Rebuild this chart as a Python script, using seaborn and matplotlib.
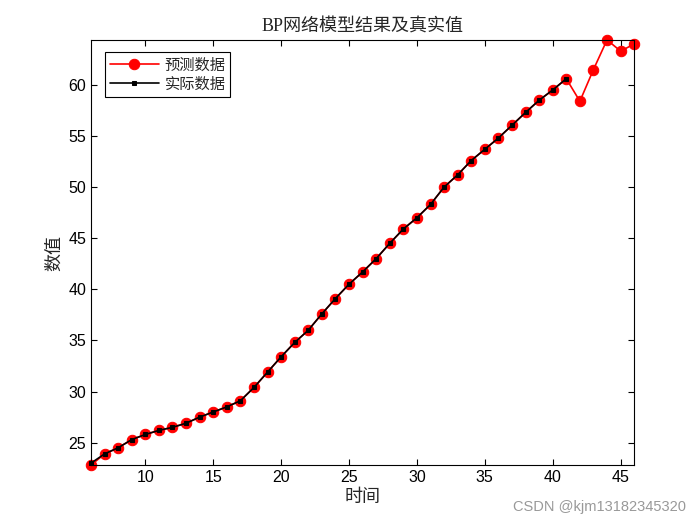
import matplotlib
matplotlib.use("Agg")
import matplotlib.pyplot as plt
import seaborn as sns
import numpy as np
import pandas as pd

# data
t_pred = list(range(6, 47))
pred = [22.8, 23.9, 24.5, 25.3, 25.8, 26.2, 26.5, 26.9, 27.5, 28.0, 28.5, 29.1,
        30.4, 31.9, 33.4, 34.8, 36.0, 37.6, 39.1, 40.5, 41.7, 43.0, 44.5, 45.9,
        47.0, 48.3, 50.0, 51.2, 52.6, 53.7, 54.8, 56.05, 57.3, 58.5, 59.5, 60.6,
        58.4, 61.5, 64.4, 63.3, 64.0]
t_act = list(range(6, 42))
act = [23.0, 23.9, 24.5, 25.3, 25.8, 26.2, 26.5, 26.9, 27.5, 28.0, 28.5, 29.1,
       30.4, 31.9, 33.4, 34.8, 36.0, 37.6, 39.1, 40.5, 41.7, 43.0, 44.5, 45.9,
       47.0, 48.3, 50.0, 51.2, 52.6, 53.7, 54.8, 56.05, 57.3, 58.5, 59.5, 60.6]
xticks = [10, 15, 20, 25, 30, 35, 40, 45]
yticks = [25, 30, 35, 40, 45, 50, 55, 60]

sns.set_style("white")
plt.rcParams['font.family'] = ['Liberation Sans', 'Noto Sans CJK SC', 'DejaVu Sans']

fig = plt.figure(figsize=(7, 5.25), dpi=100)
ax = fig.add_axes([0.13, 0.114, 0.776, 0.81])

sns.lineplot(x=t_pred, y=pred, ax=ax, color='red', marker='o', markersize=7.5,
             markeredgecolor='red', linewidth=1.2, label='预测数据', clip_on=False)
sns.lineplot(x=t_act, y=act, ax=ax, color='black', marker='s', markersize=3.5,
             markeredgecolor='black', linewidth=1.2, label='实际数据', clip_on=False)

ax.set_xlim(6, 46)
ax.set_ylim(min(pred), max(pred))
ax.set_xticks(xticks)
ax.set_yticks(yticks)
ax.tick_params(direction='in', length=4, width=0.8, labelsize=11.5, colors='black',
               top=True, right=True, bottom=True, left=True, labeltop=False, labelright=False)
for s in ax.spines.values():
    s.set_visible(True)
    s.set_color('black')
    s.set_linewidth(0.8)

ax.set_title('BP网络模型结果及真实值', fontsize=13,
             family=['Liberation Serif', 'Noto Sans CJK SC'], pad=6)
ax.set_xlabel('时间', fontsize=13, family=['Noto Sans CJK SC'], labelpad=2)
ax.set_ylabel('数值', fontsize=13, family=['Noto Sans CJK SC'], labelpad=4)

leg = ax.legend(loc='upper left', bbox_to_anchor=(0.012, 0.99), fancybox=False,
                edgecolor='black', framealpha=1, prop={'family': 'Noto Sans CJK SC', 'size': 11},
                handlelength=3.2, borderpad=0.3, labelspacing=0.15, handletextpad=0.4)
leg.get_frame().set_linewidth(0.8)

fig.text(0.98, 0.02, 'CSDN @kjm13182345320', ha='right', va='bottom', fontsize=10.5,
         color='#999999', family=['Liberation Sans'])

fig.savefig('out.png', dpi=100)
